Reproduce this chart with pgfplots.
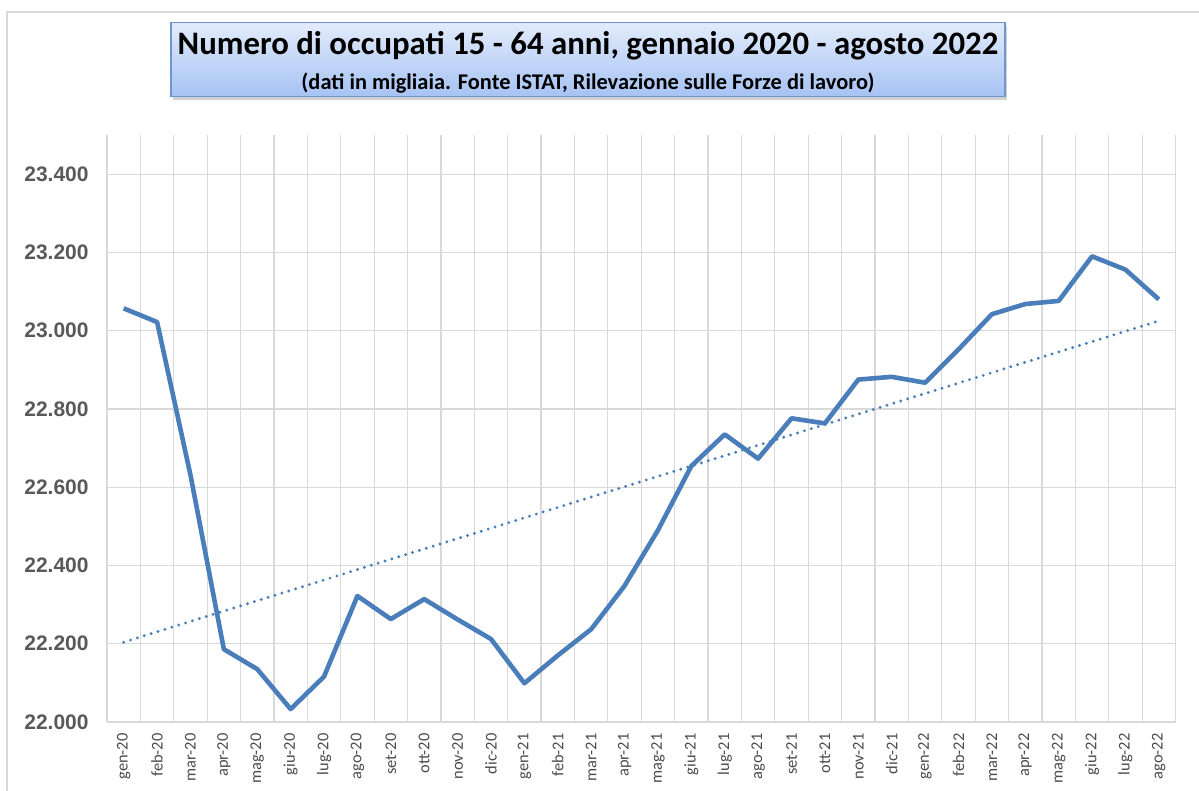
\documentclass[border=0pt]{standalone}
\usepackage{pgfplots}
\pgfplotsset{compat=1.18}
\usepackage{fontspec}
\setmainfont{Carlito}
\newfontfamily\arialfont{Liberation Sans}
\usetikzlibrary{shadows}
\definecolor{linec}{HTML}{4A7EBB}
\definecolor{gridc}{HTML}{D9D9D9}
\definecolor{labc}{HTML}{595959}
\definecolor{boxtop}{HTML}{E2EBFB}
\definecolor{boxbot}{HTML}{A6C3F3}
\definecolor{boxdraw}{HTML}{6F94CE}
\begin{document}
\begin{tikzpicture}
\useasboundingbox (0,0) rectangle (599.5pt,395.5pt);
\fill[white] (0,0) rectangle (599.5pt,395.5pt);
\draw[gridc, line width=0.6pt] (3.5pt,0) -- (3.5pt,389.5pt) -- (599.5pt,389.5pt);
\begin{axis}[
  at={(53.5pt,34.5pt)}, anchor=south west,
  scale only axis, width=534.25pt, height=293.5pt,
  xmin=-0.5, xmax=31.5, ymin=22000, ymax=23500,
  axis line style={draw=none},
  tick style={draw=none},
  scaled y ticks=false,
  xtick={0,...,31},
  xticklabels={gen-20,feb-20,mar-20,apr-20,mag-20,giu-20,lug-20,ago-20,set-20,ott-20,nov-20,dic-20,gen-21,feb-21,mar-21,apr-21,mag-21,giu-21,lug-21,ago-21,set-21,ott-21,nov-21,dic-21,gen-22,feb-22,mar-22,apr-22,mag-22,giu-22,lug-22,ago-22},
  minor xtick={-0.5,0.5,1.5,2.5,3.5,4.5,5.5,6.5,7.5,8.5,9.5,10.5,11.5,12.5,13.5,14.5,15.5,16.5,17.5,18.5,19.5,20.5,21.5,22.5,23.5,24.5,25.5,26.5,27.5,28.5,29.5,30.5,31.5},
  xminorgrids=true,
  ytick={22000,22200,22400,22600,22800,23000,23200,23400},
  yticklabels={22.000,22.200,22.400,22.600,22.800,23.000,23.200,23.400},
  ymajorgrids=true,
  grid style={gridc, line width=0.6pt},
  minor grid style={gridc, line width=0.6pt},
  x tick label style={rotate=90, anchor=east, inner sep=0pt, font=\fontsize{8.2}{9}\selectfont, text=labc!85!black},
  y tick label style={anchor=east, inner sep=0pt, font=\arialfont\bfseries\fontsize{10.5}{12}\selectfont, text=labc},
  xticklabel shift=5.5pt,
  yticklabel shift=9pt,
  clip=false,
]
\addplot[linec, line width=1.6pt, line cap=round, dash pattern=on 0pt off 3.6pt] coordinates {(0,22204) (31,23025)};
\addplot[linec, line width=2.3pt, line join=round] coordinates {
(0,23057) (1,23022) (2,22631) (3,22186) (4,22135) (5,22033) (6,22116) (7,22322)
(8,22263) (9,22314) (10,22262) (11,22212) (12,22099) (13,22170) (14,22237) (15,22348)
(16,22490) (17,22654) (18,22735) (19,22673) (20,22776) (21,22763) (22,22875) (23,22882)
(24,22867) (25,22952) (26,23042) (27,23068) (28,23076) (29,23190) (30,23156) (31,23080)};
\end{axis}
\draw[boxdraw, line width=0.6pt, top color=boxtop, bottom color=boxbot,
  drop shadow={shadow xshift=1.2pt, shadow yshift=-1.5pt, opacity=0.35}]
  (85.5pt,347.2pt) rectangle (502.5pt,384.2pt);
\node[font=\bfseries\fontsize{16.4}{18}\selectfont, inner sep=0pt] at (294pt,372.5pt) {Numero di occupati 15 - 64 anni, gennaio 2020 - agosto 2022};
\node[font=\bfseries\fontsize{11.2}{13}\selectfont, inner sep=0pt] at (294pt,353.8pt) {(dati in migliaia. Fonte ISTAT, Rilevazione sulle Forze di lavoro)};
\end{tikzpicture}
\end{document}
